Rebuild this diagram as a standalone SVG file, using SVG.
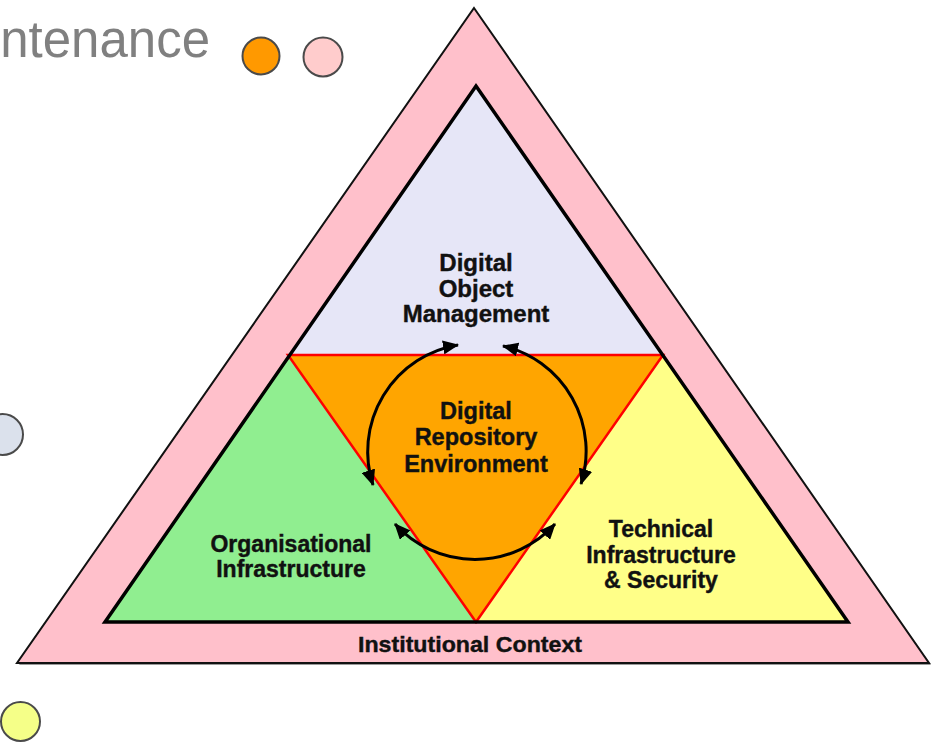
<svg xmlns="http://www.w3.org/2000/svg" width="934" height="742" viewBox="0 0 934 742">
<defs>
<marker id="ah" viewBox="0 0 16 14" refX="15" refY="7" markerWidth="16" markerHeight="14" markerUnits="userSpaceOnUse" orient="auto-start-reverse">
<path d="M0,0 L16,7 L0,14 Z" fill="#000"/>
</marker>
</defs>
<style>
.lbl{font-family:"Liberation Sans",Arial,sans-serif;font-weight:bold;fill:#111;text-anchor:middle;stroke:#111;stroke-width:0.4}
.arc{fill:none;stroke:#000;stroke-width:3;marker-start:url(#ah);marker-end:url(#ah)}
.dot{stroke:#4a4a4a;stroke-width:2}
</style>
<rect width="934" height="742" fill="#fff"/>
<text x="210" y="57" font-family="Liberation Sans, Arial, sans-serif" font-size="51" fill="#808080" text-anchor="end">ntenance</text>
<g id="dots">
<circle class="dot" cx="261" cy="56" r="18.5" fill="#ff9900"/>
<circle class="dot" cx="323" cy="57" r="19.5" fill="#ffcccc"/>
<circle class="dot" cx="2.5" cy="434.5" r="20.5" fill="#dbe1ec"/>
<circle class="dot" cx="20.5" cy="721.5" r="19.5" fill="#f5ff88"/>
</g>
<g id="institutional-context">
<polygon points="475,11 931,665 19,665" fill="#9a9a9a"/>
<polygon points="474,8 929,663 17,663" fill="#ffc0cb" stroke="#111" stroke-width="2" stroke-linejoin="miter"/>
<text class="lbl" x="470" y="652" font-size="22" textLength="224" lengthAdjust="spacingAndGlyphs">Institutional Context</text>
</g>
<g id="digital-object-management">
<polygon points="476,86 288,355 663,355" fill="#e6e6f7"/>
<text class="lbl" font-size="24"><tspan x="476" y="271">Digital</tspan><tspan x="476" y="297">Object</tspan><tspan x="476" y="322">Management</tspan></text>
</g>
<g id="organisational-infrastructure">
<polygon points="288,355 476,622 105,622" fill="#90ee90"/>
<text class="lbl" font-size="23"><tspan x="291" y="552">Organisational</tspan><tspan x="291" y="577">Infrastructure</tspan></text>
</g>
<g id="technical-infrastructure">
<polygon points="663,355 848,622 476,622" fill="#ffff88"/>
<text class="lbl" font-size="23"><tspan x="661" y="537">Technical</tspan><tspan x="661" y="563">Infrastructure</tspan><tspan x="661" y="588">&amp; Security</tspan></text>
</g>
<g id="digital-repository-environment">
<polygon points="288,355 663,355 476,622" fill="#ffa500" stroke="#ff0000" stroke-width="2.5" stroke-linejoin="miter"/>
<text class="lbl" font-size="23.5"><tspan x="476" y="419">Digital</tspan><tspan x="476" y="445">Repository</tspan><tspan x="476" y="472">Environment</tspan></text>
</g>
<polygon id="inner-frame" points="476,86 848,622 105,622" fill="none" stroke="#000" stroke-width="3.5" stroke-linejoin="miter"/>
<g id="connectors">
<path class="arc" d="M458,345 A108,108 0 0 0 373,485"/>
<path class="arc" d="M503,346 A108,108 0 0 1 581,484"/>
<path class="arc" d="M555,524 A108,108 0 0 1 395,524"/>
</g>
</svg>
